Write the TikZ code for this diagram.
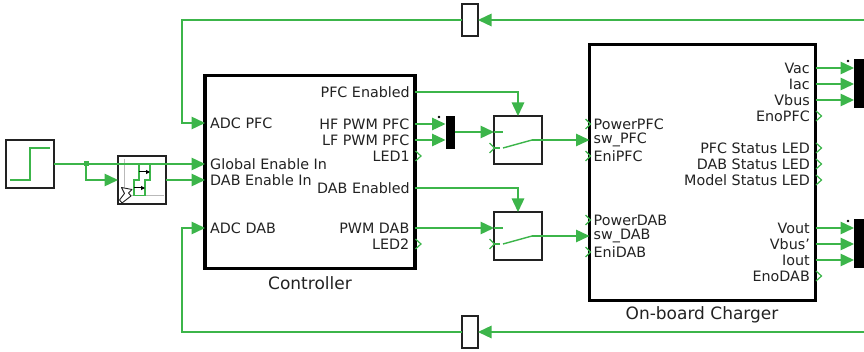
\documentclass[tikz,border=0pt]{standalone}
\usepackage{fontspec}
\setmainfont{DejaVu Sans}
\usetikzlibrary{arrows.meta}
\definecolor{wire}{HTML}{3CB54A}
\definecolor{ink}{HTML}{222222}
\tikzset{
  x=1pt,y=-1pt,
  blk/.style={draw=ink,line width=1.5pt,fill=white,inner sep=0pt,outer sep=0pt},
  big/.style={draw=black,line width=3.2pt,fill=white,inner sep=0pt,outer sep=0pt},
  bar/.style={fill=black,draw=none,inner sep=0pt,outer sep=0pt},
  wr/.style={draw=wire,line width=1.4pt},
  ar/.style={wr,-{Triangle[length=13.5pt,width=12.5pt,fill=wire]}},
  pl/.style={font=\fontsize{14.3}{16}\selectfont,text=ink,inner sep=0pt,anchor=west},
  pr/.style={font=\fontsize{14.3}{16}\selectfont,text=ink,inner sep=0pt,anchor=east},
  title/.style={font=\fontsize{17}{19}\selectfont,text=ink,inner sep=0pt},
  chev/.style={wr,line width=1.2pt,fill=none},
}
\begin{document}
\begin{tikzpicture}
\useasboundingbox (0,0) rectangle (864,352);
% blocks
\node[blk,minimum width=48pt,minimum height=48pt] (step) at (30,164) {};
\node[blk,minimum width=48pt,minimum height=48pt] (hyb) at (142,180) {};
\node[big,minimum width=210pt,minimum height=193pt] (ctl) at (310,172) {};
\node[big,minimum width=226pt,minimum height=256pt] (obc) at (702.5,172.5) {};
\node[blk,minimum width=48pt,minimum height=48pt] (swa) at (518,140) {};
\node[blk,minimum width=48pt,minimum height=48pt] (swb) at (518,236) {};
\node[blk,minimum width=16pt,minimum height=32pt] (gt) at (470,20) {};
\node[blk,minimum width=16pt,minimum height=32pt] (gb) at (470,332) {};
\node[bar,minimum width=9pt,minimum height=33pt] (mc) at (450,132.5) {};
\node[bar,minimum width=10pt,minimum height=49pt] (ma) at (859,84) {};
\node[bar,minimum width=10pt,minimum height=49pt] (mb) at (859,244) {};
\fill[black] (439,117) circle (1.3pt) (848,61) circle (1.3pt) (848,221) circle (1.3pt);
% step icon
\draw[wr] (10,180) -- (30,180) -- (30,148) -- (50,148);
% hybrid icon
\draw[gray!55,line width=1pt] (124.5,159) -- (124.5,196) -- (164,196);
\draw[wr] (139,164.3) -- (150,164.3) -- (150,180) -- (145,180) -- (145,195.7) -- (134,195.7) -- (134,180) -- (139,180) -- cycle;
\draw[black,line width=1pt,-{Triangle[length=4pt,width=4pt]}] (139,172) -- (150,172);
\draw[black,line width=1pt,-{Triangle[length=4pt,width=4pt]}] (134,188) -- (145,188);
\draw[ink,line width=.9pt,fill=white,line join=round] (121.5,187.5) -- (132,189.5) -- (128.5,193) -- (131,196) -- (122,203) -- (119.5,200) -- (124.5,193.5) -- cycle;
% coordinates
\coordinate (junc) at (86,164);
\coordinate (stepout) at (step.east |- 0,164);
\coordinate (hybin) at (hyb.west |- 0,180);
\coordinate (hybout) at (hyb.east |- 0,180);
\coordinate (cGlob) at (ctl.west |- 0,164);
\coordinate (cDab) at (ctl.west |- 0,180);
\coordinate (cAdcP) at (ctl.west |- 0,123);
\coordinate (cAdcD) at (ctl.west |- 0,228);
\coordinate (cPfcEn) at (ctl.east |- 0,92);
\coordinate (cHf) at (ctl.east |- 0,124);
\coordinate (cLf) at (ctl.east |- 0,140);
\coordinate (cDabEn) at (ctl.east |- 0,188);
\coordinate (cPwm) at (ctl.east |- 0,228);
\coordinate (tl) at (182,20);
\coordinate (bl) at (182,332);
\coordinate (rt) at (864,20);
\coordinate (rb) at (864,332);
\coordinate (sa1) at (503,132);
\coordinate (sa2) at (503,148);
\coordinate (sa3) at (532,140);
\coordinate (sb1) at (503,228);
\coordinate (sb2) at (503,244);
\coordinate (sb3) at (532,236);
% connectors
\draw[ar] (stepout) -- (cGlob);
\draw[ar] (junc) |- (hybin);
\fill[wire] (83.5,161.5) rectangle (88.5,166.5);
\draw[ar] (hybout) -- (cDab);
\draw[ar] (rt) -- (gt.east);
\draw[ar] (gt.west) -- (tl) |- (cAdcP);
\draw[ar] (rb) -- (gb.east);
\draw[ar] (gb.west) -- (bl) |- (cAdcD);
\draw[ar] (cPfcEn) -| (swa.north);
\draw[ar] (cDabEn) -| (swb.north);
\draw[ar] (cHf) -- (mc.west |- 0,124);
\draw[ar] (cLf) -- (mc.west |- 0,140);
\draw[ar] (mc.east |- 0,132) -- (swa.west |- 0,132);
\draw[wr] (swa.west |- 0,132) -- (sa1);
\draw[ar] (cPwm) -- (swb.west |- 0,228);
\draw[wr] (swb.west |- 0,228) -- (sb1);
\draw[wr] (sa2) -- (sa3);
\draw[wr] (sb2) -- (sb3);
\draw[ar] (sa3) -- (obc.west |- 0,140);
\draw[ar] (sb3) -- (obc.west |- 0,236);
\draw[wr] (swa.west |- 0,148) -- (499.5,148);
\draw[wr] (swb.west |- 0,244) -- (499.5,244);
\foreach \y in {68,84,100} \draw[ar] (obc.east |- 0,\y) -- (ma.west |- 0,\y);
\foreach \y in {228,244,260} \draw[ar] (obc.east |- 0,\y) -- (mb.west |- 0,\y);
% open ports
\foreach \x/\y in {489.5/148,489.5/244,585.5/124,585.5/156,585.5/220,585.5/252}
  \draw[chev] (\x,\y-5) -- (\x+5,\y) -- (\x,\y+5);
\foreach \x/\y in {415.5/156,415.5/244,816/116,816/148,816/164,816/180,816/276}
  \draw[chev] (\x,\y-5) -- (\x+5.5,\y) -- (\x,\y+5);
% labels
\node[pl] (t1) at (210,123) {ADC PFC};
\node[pl] (t2) at (210,164) {Global Enable In};
\node[pl] (t3) at (210,180) {DAB Enable In};
\node[pl] (t4) at (210,228) {ADC DAB};
\node[pr] (t5) at (410,92) {PFC Enabled};
\node[pr] (t6) at (409.5,124) {HF PWM PFC};
\node[pr] (t7) at (409.5,140) {LF PWM PFC};
\node[pr] (t8) at (410,156) {LED1};
\node[pr] (t9) at (410,188) {DAB Enabled};
\node[pr] (t10) at (409.5,228) {PWM DAB};
\node[pr] (t11) at (409.5,244) {LED2};
\node[pl] (t12) at (593.5,124) {PowerPFC};
\node[pl] (t13) at (593.5,140) {sw\_PFC};
\node[pl] (t14) at (593.5,156) {EniPFC};
\node[pl] (t15) at (593.5,220) {PowerDAB};
\node[pl] (t16) at (593.5,236) {sw\_DAB};
\node[pl] (t17) at (593.5,252) {EniDAB};
\node[pr] (t18) at (810,68) {Vac};
\node[pr] (t19) at (810,84) {Iac};
\node[pr] (t20) at (810,100) {Vbus};
\node[pr] (t21) at (810,116) {EnoPFC};
\node[pr] (t22) at (810,148) {PFC Status LED};
\node[pr] (t23) at (810,164) {DAB Status LED};
\node[pr] (t24) at (810,180) {Model Status LED};
\node[pr] (t25) at (810,228) {Vout};
\node[pr] (t26) at (810,244) {Vbus'};
\node[pr] (t27) at (810,260) {Iout};
\node[pr] (t28) at (810,276) {EnoDAB};
\node[title] (t29) at (310,283) {Controller};
\node[title] (t30) at (702,315) {On-board Charger};
\end{tikzpicture}
\end{document}
